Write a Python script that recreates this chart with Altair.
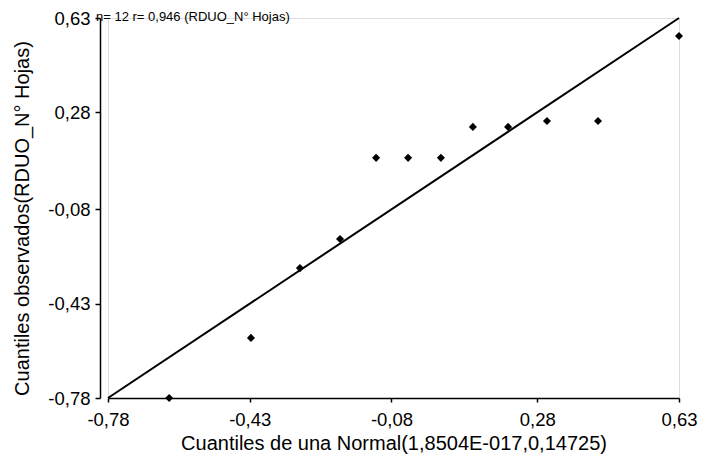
import altair as alt
import pandas as pd

# Data
norm_q = [-0.629, -0.427, -0.306, -0.207, -0.118, -0.039, 0.042, 0.121, 0.208, 0.304, 0.430, 0.630]
obs_q = [-0.780, -0.557, -0.298, -0.190, 0.111, 0.111, 0.111, 0.226, 0.226, 0.248, 0.248, 0.563]
line_x = [-0.78, 0.63]
line_y = [-0.78, 0.63]
tick_vals = [-0.78, -0.43, -0.08, 0.28, 0.63]
dom = [-0.78, 0.63]

pts = pd.DataFrame({"x": norm_q, "y": obs_q})
ln = pd.DataFrame({"x": line_x, "y": line_y})

FONT = "Liberation Sans"
lab = "replace(replace(format(datum.value, '.2f'), '.', ','), '−', '-')"

xs = alt.Scale(domain=dom, nice=False, zero=False)
ys = alt.Scale(domain=dom, nice=False, zero=False)

xaxis = alt.Axis(values=tick_vals, labelExpr=lab, grid=False, tickSize=4,
                 labelPadding=8, labelFontSize=18.5, labelFont=FONT, labelColor="black",
                 domainColor="black", tickColor="black", domainWidth=1.5, tickWidth=1.5,
                 title="Cuantiles de una Normal(1,8504E-017,0,14725)",
                 titleFont=FONT, titleFontSize=20, titleFontWeight="normal", titleColor="black",
                 titleY=45, titleBaseline="middle", labelFlush=False)
yaxis = alt.Axis(values=tick_vals, labelExpr=lab, grid=False, tickSize=5, offset=8,
                 labelPadding=5, labelFontSize=18.5, labelFont=FONT, labelColor="black",
                 domainColor="black", tickColor="black", domainWidth=1.5, tickWidth=1.5,
                 title="Cuantiles observados(RDUO_N° Hojas)",
                 titleFont=FONT, titleFontSize=20, titleFontWeight="normal", titleColor="black",
                 titleX=-78, titleY=200, titleAngle=270, titleAlign="center",
                 titleBaseline="middle", labelFlush=False)

line = alt.Chart(ln).mark_line(color="black", strokeWidth=2).encode(
    x=alt.X("x:Q", scale=xs, axis=xaxis),
    y=alt.Y("y:Q", scale=ys, axis=yaxis),
)
points = alt.Chart(pts).mark_point(shape="diamond", filled=True, color="black", size=65, opacity=1).encode(
    x=alt.X("x:Q", scale=xs),
    y=alt.Y("y:Q", scale=ys),
)
note = alt.Chart(pd.DataFrame({"t": ["n= 12 r= 0,946 (RDUO_N° Hojas)"]})).mark_text(
    align="left", baseline="middle", font=FONT, fontSize=13, color="black"
).encode(x=alt.value(-12), y=alt.value(-1), text="t:N")

chart = alt.layer(line, points, note).properties(
    width=571, height=380,
    autosize=alt.AutoSizeParams(type="none"),
    padding={"left": 108, "top": 18, "right": 26, "bottom": 63},
).configure_view(stroke=None).configure(background="white")

chart.save("out.html", embed_options={"renderer": "svg", "actions": False})
